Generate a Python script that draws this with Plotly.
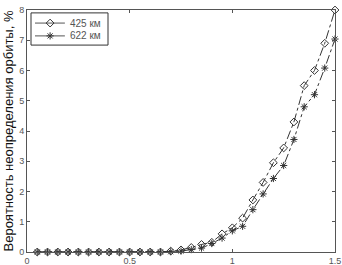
import plotly.graph_objects as go

x_vals = [round(0.05 * i, 2) for i in range(1, 31)]
y_425 = [0, 0, 0, 0, 0, 0, 0, 0, 0, 0, 0, 0, 0, 0.03, 0.07, 0.15, 0.25, 0.32, 0.6, 0.8,
         1.12, 1.72, 2.3, 2.95, 3.44, 4.3, 5.5, 6.0, 6.9, 8.0]
y_622 = [0, 0, 0, 0, 0, 0, 0, 0, 0, 0, 0, 0, 0, 0.01, 0.03, 0.08, 0.13, 0.28, 0.46, 0.7,
         0.85, 1.4, 1.92, 2.43, 2.86, 3.72, 4.8, 5.2, 6.08, 7.04]
names = ["425 км", "622 км"]
symbols = ["diamond-open", "asterisk-open"]
x_ticks = [0, 0.5, 1, 1.5]
x_tick_text = ["0", "0.5", "1", "1.5"]
y_ticks = [0, 1, 2, 3, 4, 5, 6, 7, 8]
y_title = "Вероятность неопределения орбиты, %"

INK = "#333"
FONT = "Liberation Sans, Arial"

fig = go.Figure()
for ys, nm, sym in zip([y_425, y_622], names, symbols):
    fig.add_trace(go.Scatter(x=x_vals, y=ys, name=nm, mode="lines+markers", cliponaxis=False,
                             showlegend=False,
                             line=dict(color=INK, width=1, dash="dashdot"),
                             marker=dict(symbol=sym, size=6, color=INK, line=dict(width=1))))

# manual legend (compact box like the original)
leg_x0, leg_x1, leg_y0, leg_y1 = 0.013, 0.263, 0.855, 0.988
row_y = [0.946, 0.893]
line_x = (0.026, 0.123)
mark_x = 0.075
text_x = 0.133
fig.add_shape(type="rect", xref="paper", yref="paper", x0=leg_x0, x1=leg_x1, y0=leg_y0, y1=leg_y1,
              line=dict(color=INK, width=1), fillcolor="white", layer="below")
for ry, nm, sym in zip(row_y, names, symbols):
    fig.add_shape(type="line", xref="paper", yref="paper", x0=line_x[0], x1=line_x[1], y0=ry, y1=ry,
                  line=dict(color="#555", width=1), layer="below")
    fig.add_annotation(xref="paper", yref="paper", x=text_x, y=ry, text=nm, showarrow=False,
                       xanchor="left", yanchor="middle",
                       font=dict(family=FONT, size=10, color="#555"))
fig.add_trace(go.Scatter(x=[mark_x, mark_x], y=row_y, xaxis="x2", yaxis="y2", mode="markers",
                         showlegend=False, hoverinfo="skip",
                         marker=dict(symbol=symbols, size=6, color=INK, line=dict(width=1))))

axis_common = dict(showgrid=False, zeroline=False, showline=True, linecolor="#555", linewidth=1,
                   mirror="ticks", ticks="inside", ticklen=3, tickcolor="#555", automargin=False,
                   tickfont=dict(family=FONT, size=9, color="#555"))
fig.update_xaxes(range=[0, 1.5], tickvals=x_ticks, ticktext=x_tick_text, **axis_common)
fig.update_yaxes(range=[0, 8], tickvals=y_ticks, **axis_common,
                 title=dict(text=y_title, font=dict(family=FONT, size=13, color="#111"), standoff=2))
fig.update_layout(width=342, height=265, margin=dict(l=27, r=7, t=10, b=13),
                  plot_bgcolor="white", paper_bgcolor="white", showlegend=False,
                  xaxis2=dict(range=[0, 1], overlaying="x", visible=False, fixedrange=True),
                  yaxis2=dict(range=[0, 1], overlaying="y", visible=False, fixedrange=True))
fig.write_html("out.html", config={"displayModeBar": False},
               post_script="document.body.style.margin='0';document.body.style.padding='0';")
